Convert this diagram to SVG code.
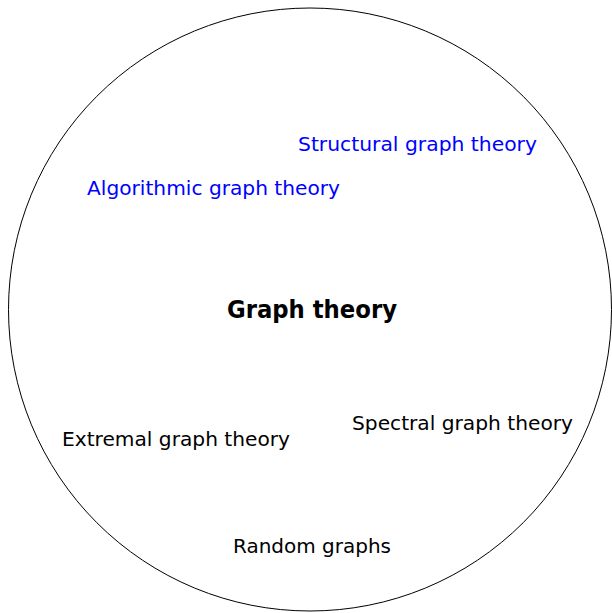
<svg xmlns="http://www.w3.org/2000/svg" width="612" height="613" viewBox="0 0 612 613">
<style>
.t{font-family:"DejaVu Sans","Liberation Sans",sans-serif;font-size:20px;text-anchor:middle;fill:#000}
.b{fill:#0000ff}
.main{font-weight:bold;font-size:24px}
</style>
<rect width="612" height="613" fill="#fff"/>
<g id="circle"><circle cx="310" cy="309.5" r="301.5" fill="none" stroke="#000" stroke-width="1"/></g>
<g id="connectors"></g>
<g id="graph-theory"><text class="t main" x="312" y="318" textLength="170" lengthAdjust="spacingAndGlyphs">Graph theory</text></g>
<g id="structural"><text class="t b" x="417.5" y="151" textLength="239" lengthAdjust="spacingAndGlyphs">Structural graph theory</text></g>
<g id="algorithmic"><text class="t b" x="213.5" y="195" textLength="253" lengthAdjust="spacingAndGlyphs">Algorithmic graph theory</text></g>
<g id="extremal"><text class="t" x="176" y="446" textLength="228" lengthAdjust="spacingAndGlyphs">Extremal graph theory</text></g>
<g id="spectral"><text class="t" x="462.5" y="430" textLength="221" lengthAdjust="spacingAndGlyphs">Spectral graph theory</text></g>
<g id="random"><text class="t" x="312" y="553" textLength="158" lengthAdjust="spacingAndGlyphs">Random graphs</text></g>
</svg>
